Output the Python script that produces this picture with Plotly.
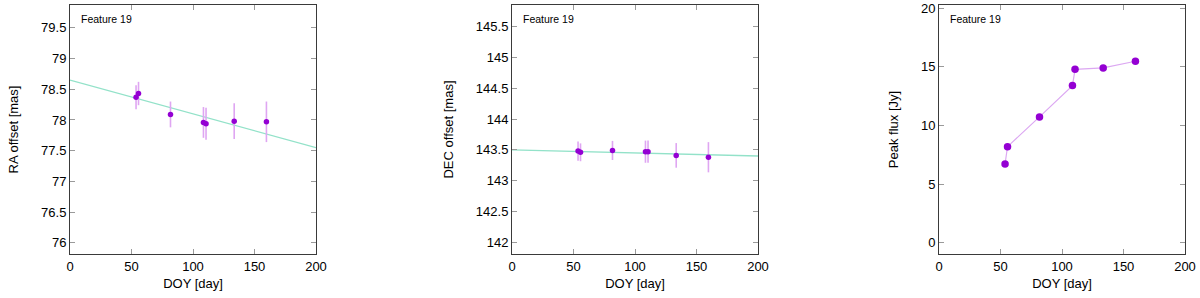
import plotly.graph_objects as go

# ---- data ----
doy = [53.7, 55.7, 81.7, 108.5, 110.6, 133.5, 159.7]

ra_offset = [78.37, 78.43, 78.09, 77.96, 77.94, 77.98, 77.97]
ra_err = [0.195, 0.19, 0.21, 0.25, 0.26, 0.29, 0.33]

dec_offset = [143.48, 143.46, 143.49, 143.47, 143.47, 143.41, 143.38]
dec_err = [0.155, 0.145, 0.155, 0.18, 0.18, 0.20, 0.245]

peak_flux = [6.71, 8.19, 10.73, 13.40, 14.79, 14.91, 15.48]

fit_x = [0, 200]
ra_fit = [78.65, 77.55]
dec_fit = [143.50, 143.40]

feature_label = "Feature 19"
x_ticks = [0, 50, 100, 150, 200]
ra_ticks = [76, 76.5, 77, 77.5, 78, 78.5, 79, 79.5]
dec_ticks = [142, 142.5, 143, 143.5, 144, 144.5, 145, 145.5]
flux_ticks = [0, 5, 10, 15, 20]

# ---- styling ----
W, H = 1200, 298
PT_COLOR = "#9400D3"
ERR_COLOR = "#dfa6f2"
FIT_COLOR = "#93e2c9"
FLUX_LINE = "#dca8f2"
FONT = "Liberation Sans, Arial, sans-serif"

top_px, bot_px = 5, 254
panels_px = [(70, 316), (512, 758), (939, 1185)]

fig = go.Figure()

def xd(a, b):
    return [a / W, b / W]

ydom = [1 - bot_px / H, 1 - top_px / H]

# panel 1: RA
fig.add_trace(go.Scatter(x=fit_x, y=ra_fit, mode="lines",
                         line=dict(color=FIT_COLOR, width=1.3),
                         xaxis="x", yaxis="y", showlegend=False))
fig.add_trace(go.Scatter(x=doy, y=ra_offset, mode="markers",
                         marker=dict(color=PT_COLOR, size=5.5),
                         error_y=dict(type="data", array=ra_err, color=ERR_COLOR,
                                      thickness=1.6, width=0),
                         xaxis="x", yaxis="y", showlegend=False))
# panel 2: DEC
fig.add_trace(go.Scatter(x=fit_x, y=dec_fit, mode="lines",
                         line=dict(color=FIT_COLOR, width=1.3),
                         xaxis="x2", yaxis="y2", showlegend=False))
fig.add_trace(go.Scatter(x=doy, y=dec_offset, mode="markers",
                         marker=dict(color=PT_COLOR, size=5.5),
                         error_y=dict(type="data", array=dec_err, color=ERR_COLOR,
                                      thickness=1.6, width=0),
                         xaxis="x2", yaxis="y2", showlegend=False))
# panel 3: flux
fig.add_trace(go.Scatter(x=doy, y=peak_flux, mode="lines+markers",
                         line=dict(color=FLUX_LINE, width=1.2),
                         marker=dict(color=PT_COLOR, size=7.5),
                         xaxis="x3", yaxis="y3", showlegend=False))

axis_common = dict(showline=True, linecolor="#3a3a3a", linewidth=1, mirror="ticks",
                   ticks="inside", ticklen=5, tickcolor="#9a9a9a", tickwidth=1,
                   showgrid=False, zeroline=False,
                   tickfont=dict(family=FONT, size=13, color="#000"),
                   title_font=dict(family=FONT, size=13, color="#000"),
                   automargin=False)

layout = dict(width=W, height=H, margin=dict(l=0, r=0, t=0, b=0),
              paper_bgcolor="white", plot_bgcolor="white",
              font=dict(family=FONT, color="#000"))

yinfo = [
    ("RA offset [mas]", [75.82, 79.87], ra_ticks),
    ("DEC offset [mas]", [141.81, 145.85], dec_ticks),
    ("Peak flux [Jy]", [-0.97, 20.28], flux_ticks),
]

for i, ((a, b), (ytitle, yr, yt)) in enumerate(zip(panels_px, yinfo), start=1):
    sfx = "" if i == 1 else str(i)
    layout["xaxis" + sfx] = dict(axis_common, domain=xd(a, b), range=[0, 200],
                                 tickvals=x_ticks, anchor="y" + sfx,
                                 title=dict(text="DOY [day]", standoff=6))
    layout["yaxis" + sfx] = dict(axis_common, domain=ydom, range=yr,
                                 tickvals=yt, anchor="x" + sfx,
                                 title=dict(text=ytitle, standoff=19))

fig.update_layout(**layout)

for i, (a, b) in enumerate(panels_px, start=1):
    fig.add_annotation(x=(a + 9) / W, y=1 - 19 / H, xref="paper", yref="paper",
                       text=feature_label, showarrow=False, xanchor="left",
                       yanchor="middle", font=dict(family=FONT, size=10.5, color="#000"))

fig.write_html("out.html", config={"displayModeBar": False},
               post_script="document.body.style.margin='0';document.body.style.overflow='hidden';")
